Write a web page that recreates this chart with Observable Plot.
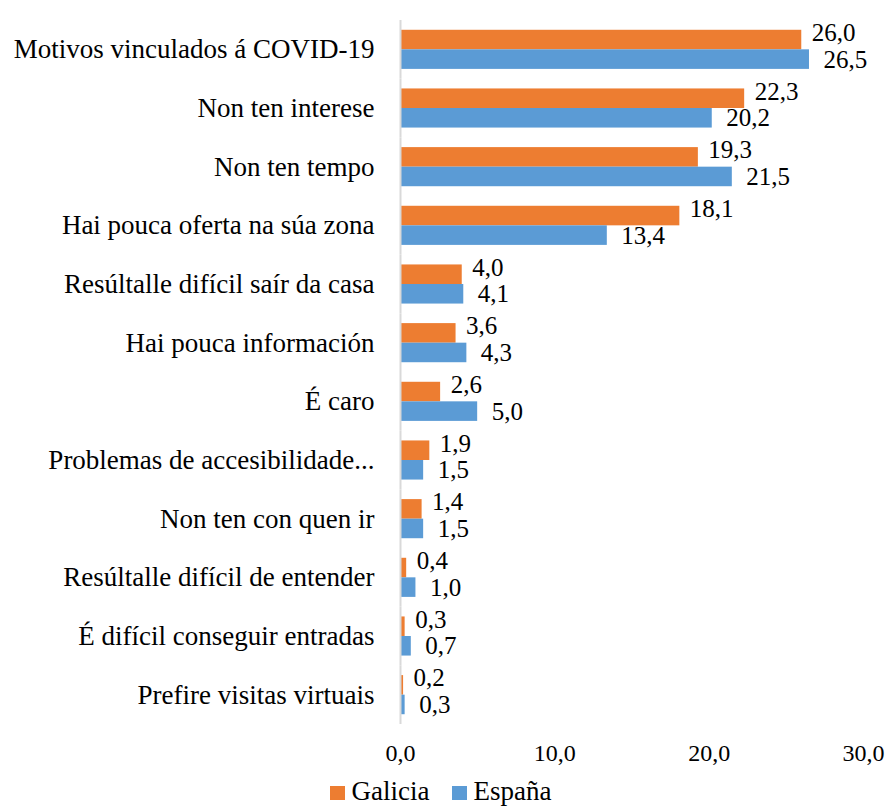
<!DOCTYPE html>
<html>
<head>
<meta charset="utf-8">
<script src="https://cdn.jsdelivr.net/npm/d3@7"></script>
<script src="https://cdn.jsdelivr.net/npm/@observablehq/plot@0.6"></script>
<style>
  html, body { margin: 0; padding: 0; background: #fff; }
  #chart svg { display: block; }
  .legend { display: flex; justify-content: center; align-items: center; gap: 22px; height: 30px; padding-top: 6px;
            font-family: "Liberation Serif", serif; font-size: 27px; line-height: 30px; color: #000; padding-right: 8px; }
  .legend span.sw { display: inline-block; width: 15px; height: 14px; margin-right: 7px; vertical-align: 0; }
</style>
</head>
<body>
<div id="chart"></div>
<script>
const categories = [
  "Motivos vinculados á COVID-19",
  "Non ten interese",
  "Non ten tempo",
  "Hai pouca oferta na súa zona",
  "Resúltalle difícil saír da casa",
  "Hai pouca información",
  "É caro",
  "Problemas de accesibilidade...",
  "Non ten con quen ir",
  "Resúltalle difícil de entender",
  "É difícil conseguir entradas",
  "Prefire visitas virtuais"
];
const series = ["Galicia", "España"];
const galicia = [26.0, 22.3, 19.3, 18.1, 4.0, 3.6, 2.6, 1.9, 1.4, 0.4, 0.3, 0.2];
const espana  = [26.5, 20.2, 21.5, 13.4, 4.1, 4.3, 5.0, 1.5, 1.5, 1.0, 0.7, 0.3];
const xTicks = [0, 10, 20, 30];
const colors = ["#ED7D31", "#5B9BD5"];

const data = [];
categories.forEach((c, i) => {
  data.push({category: c, series: series[0], value: galicia[i]});
  data.push({category: c, series: series[1], value: espana[i]});
});
const fmt = v => v.toFixed(1).replace(".", ",");

const chart = Plot.plot({
  width: 889,
  height: 770,
  marginLeft: 400,
  marginRight: 26,
  marginTop: 20,
  marginBottom: 46,
  style: {fontFamily: "Liberation Serif, serif", color: "#000", background: "#fff"},
  x: {domain: [0, 30], ticks: xTicks, tickFormat: fmt},
  fy: {domain: categories, padding: 0, round: false},
  y: {domain: series, paddingInner: 0, paddingOuter: 0.5, round: false, axis: null},
  color: {domain: series, range: colors},
  marks: [
    Plot.barX(data, {x: "value", y: "series", fy: "category", fill: "series"}),
    Plot.ruleX([0], {stroke: "#d9d9d9", strokeWidth: 2}),
    Plot.text(data.filter(d => d.series === "Galicia"), {
      x: "value", y: "series", fy: "category", text: d => fmt(d.value),
      textAnchor: "start", dx: 10, dy: -7, fontSize: 25, fill: "#000"
    }),
    Plot.text(data.filter(d => d.series === "España"), {
      x: "value", y: "series", fy: "category", text: d => fmt(d.value),
      textAnchor: "start", dx: 14, dy: 0, fontSize: 25, fill: "#000"
    }),
    Plot.axisX({ticks: xTicks, tickFormat: fmt, tickSize: 0, tickPadding: 19, fontSize: 24, label: null, fill: "#000"}),
    Plot.axisFy({anchor: "left", tickSize: 0, tickPadding: 26, fontSize: 27, label: null, fill: "#000"})
  ]
});
document.getElementById("chart").appendChild(chart);

const legend = document.createElement("div");
legend.className = "legend";
series.forEach((s, i) => {
  const item = document.createElement("div");
  const sw = document.createElement("span");
  sw.className = "sw";
  sw.style.background = colors[i];
  item.appendChild(sw);
  item.appendChild(document.createTextNode(s));
  legend.appendChild(item);
});
document.body.appendChild(legend);
</script>
</body>
</html>
